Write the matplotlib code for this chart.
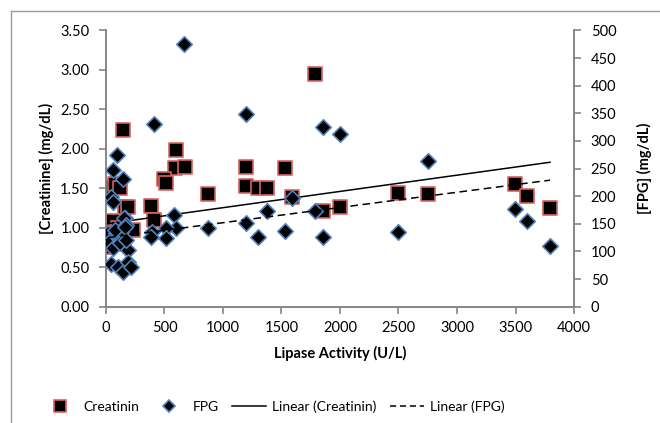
import numpy as np
import matplotlib.pyplot as plt
from matplotlib.lines import Line2D

plt.rcParams['font.family'] = ['Lato', 'DejaVu Sans']

# Creatinine vs lipase activity
lipase_cr = [1786, 145, 598, 590, 675, 496, 513, 34, 77, 120, 165, 190, 385, 410,
             872, 1197, 1197, 1299, 1376, 1530, 1590, 1855, 2000, 2496, 2752,
             3496, 3598, 3795, 60, 15, 17, 6, 230, 100]
creatinine = [2.95, 2.24, 1.99, 1.76, 1.77, 1.62, 1.57, 1.52, 1.55, 1.50, 1.26, 1.26, 1.27, 1.10,
              1.43, 1.77, 1.53, 1.50, 1.50, 1.76, 1.39, 1.21, 1.26, 1.44, 1.43,
              1.55, 1.40, 1.25, 1.08, 0.95, 0.82, 0.76, 0.97, 1.00]

# FPG vs lipase activity
lipase_fpg = [667, 413, 1194, 1855, 2000, 2749, 91, 63, 148, 40, 63, 1590, 1373, 1786,
              3496, 3596, 3795, 1197, 1302, 1530, 1857, 2493, 869, 584, 600, 510, 515,
              390, 385, 162, 150, 174, 17, 88, 131, 17, 60, 117, 188, 174, 46, 103,
              145, 188, 217, 77, 162]
fpg = [475, 330, 349, 326, 312, 264, 274, 247, 232, 198, 190, 197, 174, 174,
       176, 156, 110, 151, 127, 137, 127, 135, 142, 166, 143, 142, 124,
       136, 126, 160, 160, 148, 133, 133, 136, 115, 106, 115, 103, 121, 78, 72,
       63, 81, 72, 139, 144]

# linear trendlines, end values
trend_x_cr = [6, 3795]
trend_cr = [1.05, 1.83]
trend_x_fpg = [17, 3795]
trend_fpg = [125, 229]

fig = plt.figure(figsize=(6.6, 4.23), dpi=100)
ax = fig.add_axes([0.1606, 0.2749, 0.7091, 0.6532])
ax2 = ax.twinx()

gray = '#868686'

# Creatinin series (left axis)
ax.scatter(lipase_cr, creatinine, marker='s', s=90, facecolor='black',
           edgecolor='#d9625f', linewidth=1.2, zorder=3)
# FPG series (right axis)
ax2.scatter(lipase_fpg, fpg, marker='D', s=62, facecolor='black',
            edgecolor='#4f81bd', linewidth=1.2, zorder=3)

ax.plot(trend_x_cr, trend_cr, color='black', linewidth=1.1, zorder=4)
ax2.plot(trend_x_fpg, trend_fpg, color='black', linewidth=1.1, dashes=(5, 3), zorder=4)

ax.set_xlim(0, 4000)
ax.set_ylim(0, 3.5)
ax2.set_ylim(0, 500)
ax.set_xticks(np.arange(0, 4001, 500))
ax.set_yticks(np.arange(0, 3.51, 0.5))
ax.set_yticklabels([f'{v:.2f}' for v in np.arange(0, 3.51, 0.5)])
ax2.set_yticks(np.arange(0, 501, 50))

for a in (ax, ax2):
    a.spines['top'].set_visible(False)
    for s in ('left', 'right', 'bottom'):
        a.spines[s].set_color(gray)
        a.spines[s].set_linewidth(1.2)
    a.tick_params(axis='y', direction='out', length=5, width=1.2, color=gray,
                  labelsize=10.5, labelcolor='black', pad=7)
ax.tick_params(axis='x', direction='out', length=5, width=1.2, color=gray,
               labelsize=10.5, labelcolor='black', pad=5)

ax.set_xlabel('Lipase Activity (U/L)', fontsize=10.5, fontweight='bold', labelpad=8)
ax.set_ylabel('[Creatinine] (mg/dL)', fontsize=10.5, fontweight='bold')
ax.yaxis.set_label_coords(-0.112, 0.5)
ax2.set_ylabel('[FPG] (mg/dL)', fontsize=10.5, fontweight='bold', rotation=90)
ax2.yaxis.set_label_coords(1.135, 0.5)

handles = [
    Line2D([], [], marker='s', linestyle='none', markersize=8, markerfacecolor='black',
           markeredgecolor='#d9625f', markeredgewidth=1.2),
    Line2D([], [], marker='D', linestyle='none', markersize=6, markerfacecolor='black',
           markeredgecolor='#4f81bd', markeredgewidth=1.2),
    Line2D([], [], color='black', linewidth=1.1),
    Line2D([], [], color='black', linewidth=1.1, dashes=(4, 2.5)),
]
labels = ['Creatinin', 'FPG', 'Linear (Creatinin)', 'Linear (FPG)']
fig.legend(handles, labels, loc='center', bbox_to_anchor=(0.415, 0.038), ncol=4,
           frameon=False, fontsize=10, handlelength=2.4, columnspacing=1.0,
           handletextpad=0.45, numpoints=1)

# chart frame (left and top edges visible in the crop)
fig.add_artist(Line2D([11 / 660, 11 / 660], [0, 1 - 11 / 423], color='#9a9a9a',
                      linewidth=1, transform=fig.transFigure))
fig.add_artist(Line2D([11 / 660, 1], [1 - 11 / 423, 1 - 11 / 423], color='#9a9a9a',
                      linewidth=1, transform=fig.transFigure))

fig.savefig('out.png', dpi=100)
